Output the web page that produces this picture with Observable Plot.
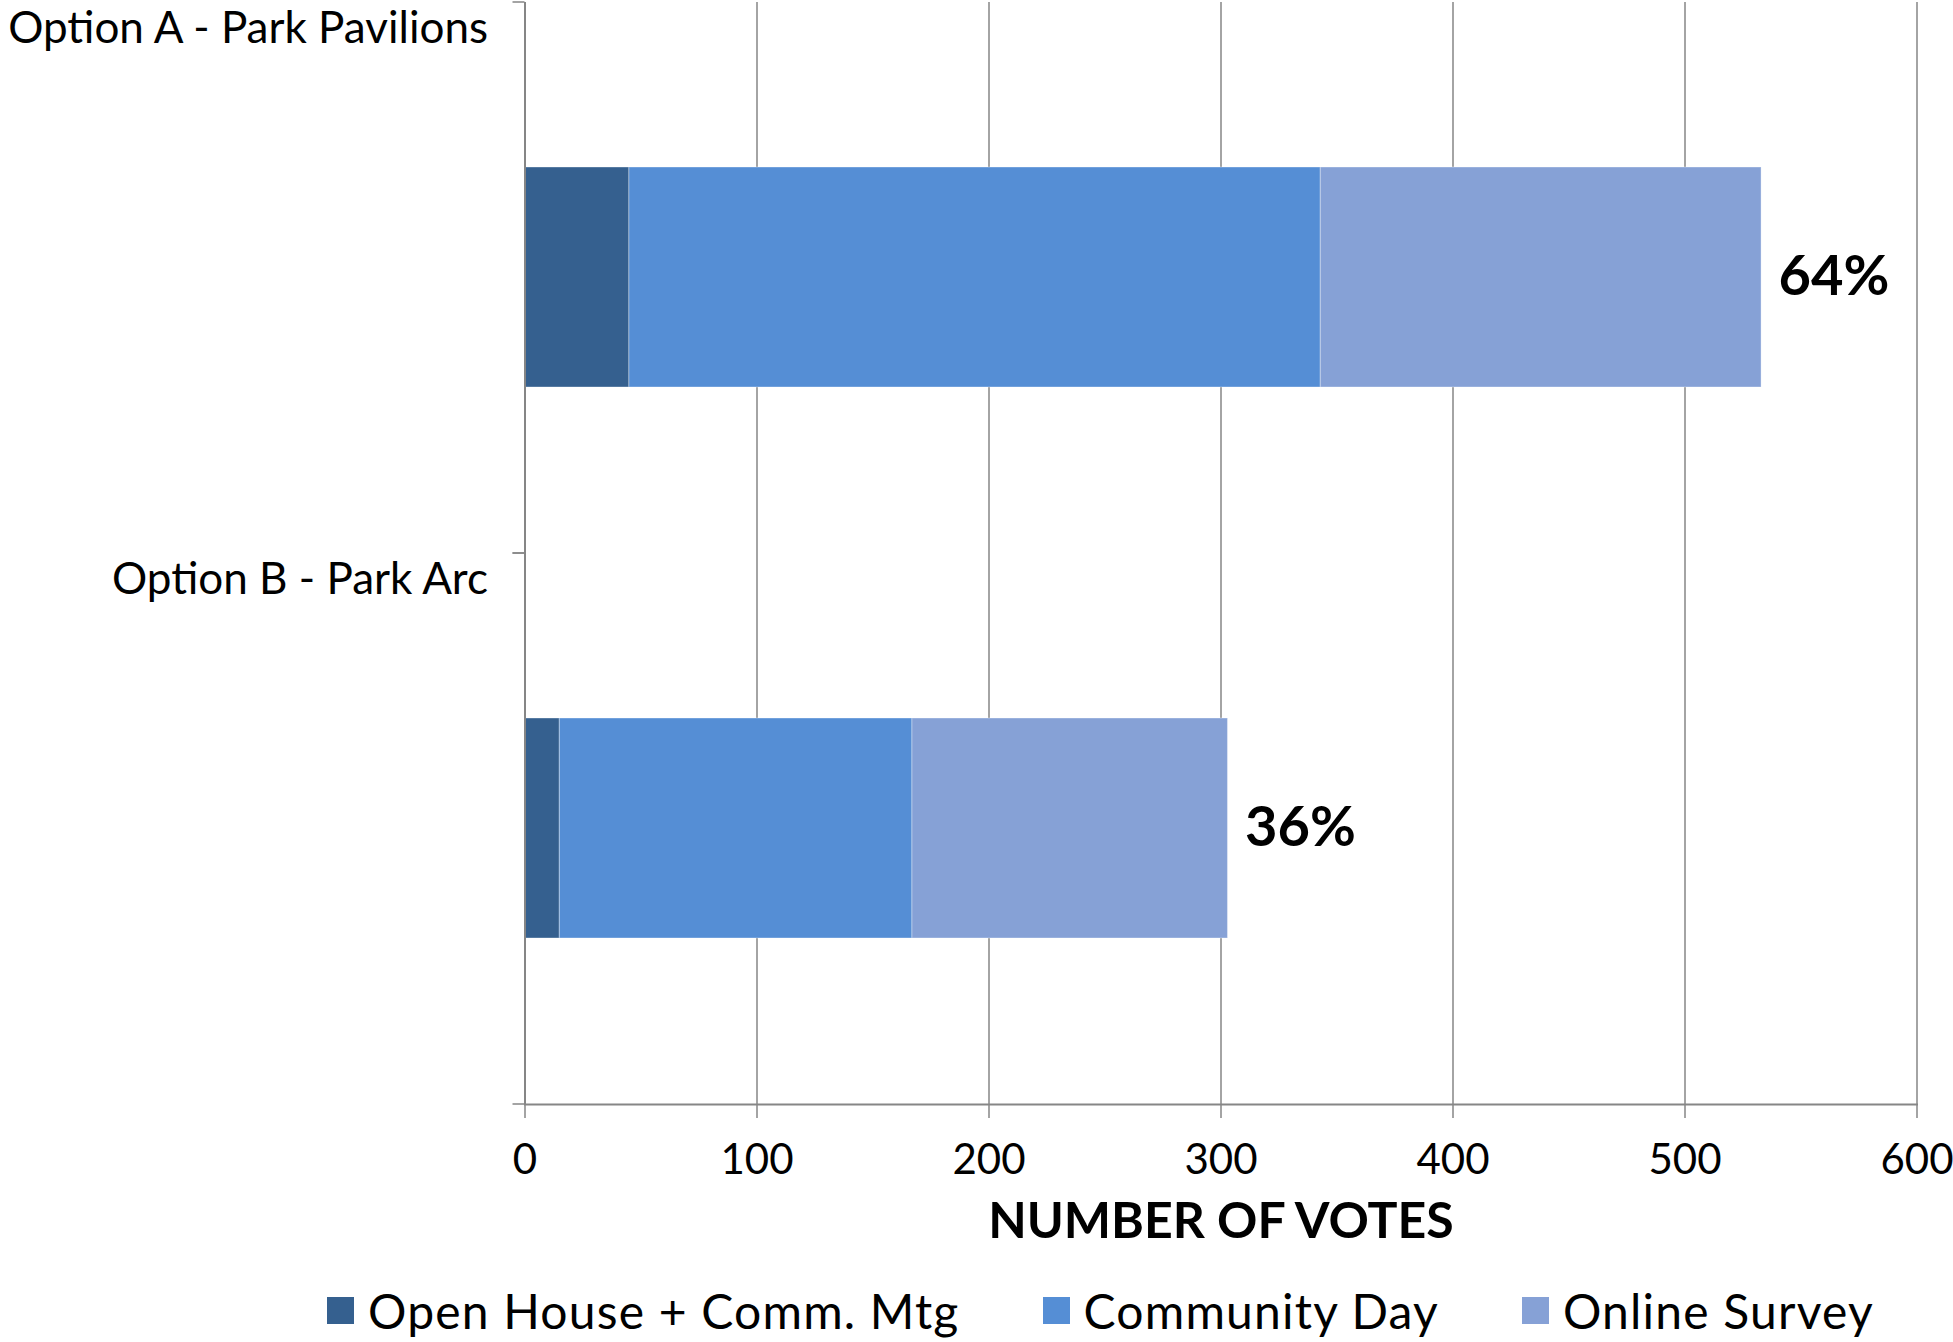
<!DOCTYPE html>
<html>
<head>
<meta charset="utf-8">
<script src="https://cdn.jsdelivr.net/npm/d3@7"></script>
<script src="https://cdn.jsdelivr.net/npm/@observablehq/plot@0.6"></script>
<style>
  html, body { margin: 0; padding: 0; background: #fff; }
  #wrap { position: relative; width: 1953px; height: 1342px; font-family: Lato, "Open Sans", sans-serif; }
  #legend { position: absolute; left: 327px; top: 1287px; width: 1620px; height: 46px; display: flex; align-items: center; font-size: 48px; letter-spacing: 1.2px; color: #000; white-space: nowrap; }
  .item { display: flex; align-items: center; margin-right: 83px; flex-shrink: 0; }
  .sw { width: 27px; height: 27px; margin-right: 14px; flex-shrink: 0; }
</style>
</head>
<body>
<div id="wrap"><div id="chart"></div><div id="legend"></div></div>
<script>
const categories = ["Option A - Park Pavilions", "Option B - Park Arc"];
const sources = ["Open House + Comm. Mtg", "Community Day", "Online Survey"];
const openHouse = [45, 15];
const communityDay = [298, 152];
const onlineSurvey = [190, 136];
const percentLabels = ["64%", "36%"];
const xTicks = [0, 100, 200, 300, 400, 500, 600];
const colors = ["#35608F", "#558ED5", "#86A1D6"];

const series = [openHouse, communityDay, onlineSurvey];
const data = [];
categories.forEach((c, i) => sources.forEach((s, j) => data.push({option: c, source: s, votes: series[j][i]})));
const totals = categories.map((c, i) => openHouse[i] + communityDay[i] + onlineSurvey[i]);
const labelRows = categories.map((c, i) => ({option: c, total: totals[i], label: percentLabels[i]}));

const gray = "#868686";
const chart = Plot.plot({
  width: 1953,
  height: 1260,
  marginLeft: 524.5,
  marginRight: 36.5,
  marginTop: 2,
  marginBottom: 156,
  style: {fontFamily: "Lato, 'Open Sans', sans-serif", color: "#000", background: "#fff", overflow: "visible"},
  x: {domain: [0, 600], ticks: xTicks},
  y: {domain: categories, paddingInner: 0.6, paddingOuter: 0.3},
  color: {domain: sources, range: colors},
  marks: [
    Plot.gridX(xTicks, {stroke: gray, strokeOpacity: 1, strokeWidth: 1.5}),
    Plot.barX(data, Plot.stackX({x: "votes", y: "option", fill: "source", order: sources, stroke: "#fff", strokeOpacity: 0.35, strokeWidth: 1})),
    Plot.text(labelRows, {x: "total", y: "option", text: "label", dx: 17, textAnchor: "start", fontWeight: "bold", fontSize: 56}),
    Plot.ruleX([0], {stroke: gray, strokeWidth: 2}),
    Plot.frame({anchor: "bottom", stroke: gray, strokeWidth: 2}),
    Plot.axisX({ticks: xTicks, tickSize: 14, tickPadding: 26, fontSize: 42, stroke: gray, strokeWidth: 1.5, label: null}),
    Plot.axisY({tickSize: 12, tickFormat: () => "", dy: -275.5, stroke: gray, strokeWidth: 1.5, label: null}),
    Plot.axisY({tickSize: 12, tickFormat: () => "", dy: 275.5, stroke: gray, strokeWidth: 1.5, label: null}),
    Plot.axisY({tickSize: 0, tickPadding: 37, fontSize: 44, dy: -249, label: null}),
    Plot.text(["NUMBER OF VOTES"], {frameAnchor: "bottom", dy: 117, lineAnchor: "middle", fontWeight: "bold", fontSize: 50})
  ]
});
document.getElementById("chart").appendChild(chart);

const legend = document.getElementById("legend");
sources.forEach((s, i) => {
  const it = document.createElement("div");
  it.className = "item";
  const sw = document.createElement("div");
  sw.className = "sw";
  sw.style.background = colors[i];
  const t = document.createElement("span");
  t.textContent = s;
  it.appendChild(sw); it.appendChild(t);
  legend.appendChild(it);
});
</script>
</body>
</html>
